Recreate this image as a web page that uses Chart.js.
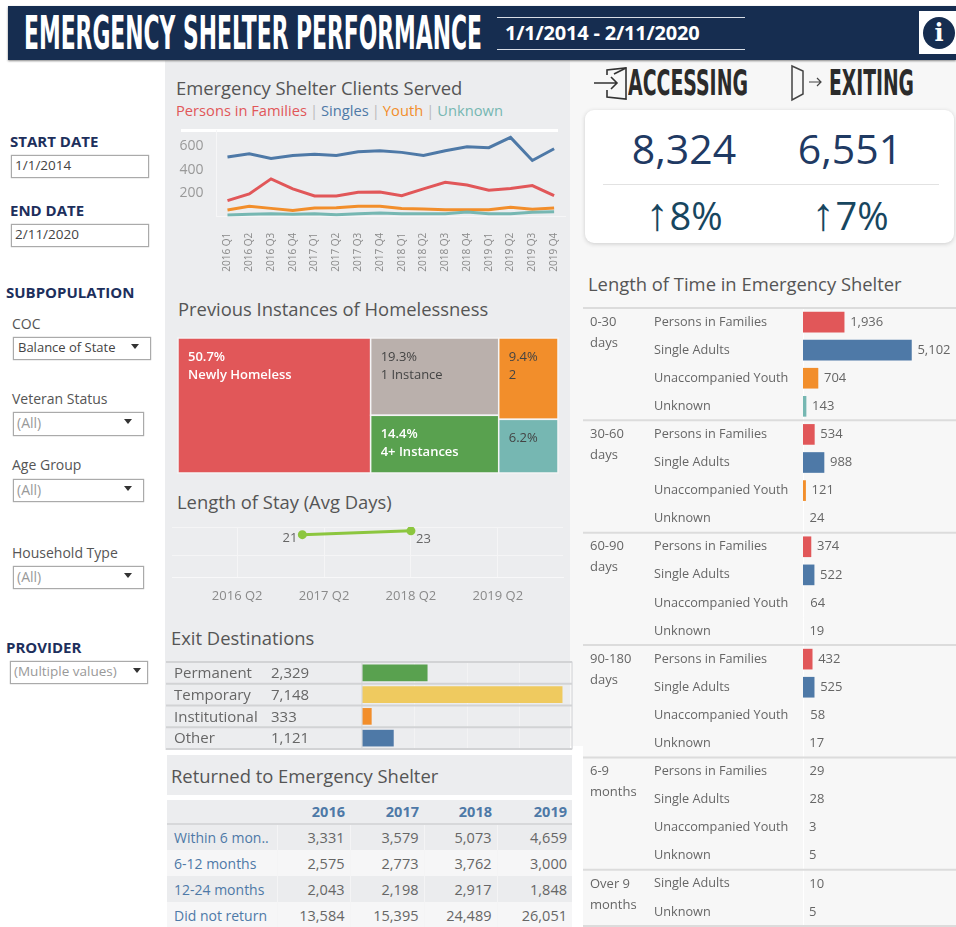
<!DOCTYPE html>
<html>
<head>
<meta charset="utf-8">
<title>Emergency Shelter Performance</title>
<script src="https://cdn.jsdelivr.net/npm/chart.js@4"></script>
<style>
  html, body { margin: 0; padding: 0; background: #fff; overflow: hidden; }
  #page { position: relative; width: 956px; height: 927px; overflow: hidden; background: #fff; font-family: "Open Sans", sans-serif; color: #555; filter: blur(0.55px); }
  #page > * { position: absolute; }
  .box { box-sizing: border-box; }
  .t { line-height: 20px; white-space: nowrap; }
  .head { font-size: 18.4px; color: #555; }
  .side { font-size: 15px; font-weight: 700; color: #1d2f5c; }
  .lab { font-size: 14px; color: #555; }
  .input { box-sizing: border-box; background: #fff; border: 1px solid #aaa; box-shadow: 0 0 1px #999; font-size: 13.5px; color: #444; padding-left: 3px; line-height: 19px; }
  .input.drop i { position: absolute; top: 6px; right: 11px; border-left: 4px solid transparent; border-right: 4px solid transparent; border-top: 5px solid #333; }
  .input.drop.all { color: #999; font-size: 14px; }
  .cond { font-family: "Liberation Sans Narrow", "DejaVu Sans Condensed", sans-serif; font-weight: 700; transform-origin: left center; white-space: nowrap; }
  .arrow { font-family: "Liberation Sans", sans-serif; font-size: 46px; font-weight: 400; margin-right: 1px; }
  .sep { margin: 0 3px; color: #bbb; }
  canvas { display: block; }
  table { border-collapse: collapse; table-layout: fixed; font-size: 14.5px; color: #666; }
  td, th { padding: 0 5px 0 0; text-align: right; white-space: nowrap; overflow: hidden; }
  th { color: #4e79a7; font-weight: 700; font-size: 14.5px; border-bottom: 2px solid #d7d8da; }
  td.row { text-align: left; padding-left: 7px; color: #4e79a7; font-weight: 500; font-size: 14px; }
  tr.odd td { background: #ebecee; }
  tr.even td { background: #f6f6f7; }
  td + td { border-left: 1px solid #f4f4f5; }
</style>
</head>
<body>
<div id="page">
  <!-- panels -->
  <div class="box" style="left:165px;top:60px;width:405px;height:690px;background:#ecedef"></div>
  <div class="box" style="left:570px;top:60px;width:386px;height:867px;background:#f7f7f7"></div>
  <div class="box" style="left:570px;top:746px;width:13px;height:181px;background:#fff"></div>
  <div class="box" style="left:167px;top:755px;width:405px;height:40px;background:#ecedef"></div>
  <div class="box" style="left:165px;top:750px;width:418px;height:5px;background:#fff"></div>

  <!-- header -->
  <div class="box" style="left:8px;top:6px;width:948px;height:54px;background:#162d50;box-shadow:0 1px 2px #888"></div>
  <div class="cond fit" data-w="458" style="left:24px;top:8px;font-size:46px;line-height:50px;color:#fff">EMERGENCY SHELTER PERFORMANCE</div>
  <div class="box" style="left:497px;top:17px;width:248px;height:33px;border-top:1px solid #d8dde6;border-bottom:1px solid #d8dde6"></div>
  <div class="t" style="left:505px;top:23px;font-size:20px;font-weight:700;color:#fff;letter-spacing:-0.2px">1/1/2014 - 2/11/2020</div>
  <div class="box" style="left:919px;top:11px;width:37px;height:43px;background:#fff"></div>
  <div style="left:923px;top:17px;width:32px;height:32px;border-radius:50%;background:#162d50;color:#fff;text-align:center;font:700 24px/32px 'DejaVu Serif',serif">i</div>

  <!-- filters -->
  <div class="t side" style="left:10px;top:131px">START DATE</div>
  <div class="input" style="left:11px;top:155px;width:138px;height:23px">1/1/2014</div>
  <div class="t side" style="left:10px;top:200px">END DATE</div>
  <div class="input" style="left:11px;top:224px;width:138px;height:23px">2/11/2020</div>
  <div class="t side" style="left:6px;top:282px">SUBPOPULATION</div>
  <div class="t lab" style="left:12px;top:314px">COC</div>
  <div class="input drop" style="left:13px;top:337px;width:138px;height:23px;font-size:13px;padding-left:4px">Balance of State<i></i></div>
  <div class="t lab" style="left:12px;top:389px">Veteran Status</div>
  <div class="input drop all" style="left:13px;top:412px;width:131px;height:24px">(All)<i></i></div>
  <div class="t lab" style="left:12px;top:455px">Age Group</div>
  <div class="input drop all" style="left:13px;top:479px;width:131px;height:23px">(All)<i></i></div>
  <div class="t lab" style="left:12px;top:543px">Household Type</div>
  <div class="input drop all" style="left:13px;top:566px;width:131px;height:23px">(All)<i></i></div>
  <div class="t side" style="left:6px;top:637px">PROVIDER</div>
  <div class="input drop all" style="left:10px;top:661px;width:138px;height:23px;font-size:13.5px">(Multiple values)<i style="right:6px"></i></div>

  <!-- middle column titles -->
  <div class="t head" style="left:176px;top:78px">Emergency Shelter Clients Served</div>
  <div class="t" style="left:176px;top:100px;font-size:14.7px"><span style="color:#e15759">Persons in Families</span><span class="sep">|</span><span style="color:#4e79a7">Singles</span><span class="sep">|</span><span style="color:#f28e2b">Youth</span><span class="sep">|</span><span style="color:#76b7b2">Unknown</span></div>
  <div class="box" style="left:181px;top:129px;width:377px;height:3px;background:#fff"></div>
  <canvas id="clientsChart" width="398" height="155" style="left:172px;top:125px"></canvas>

  <div class="t head" style="left:178px;top:299px">Previous Instances of Homelessness</div>
  <canvas id="instancesChart" width="392" height="145" style="left:172px;top:333px"></canvas>

  <div class="t head" style="left:177px;top:492px">Length of Stay (Avg Days)</div>
  <canvas id="stayChart" width="405" height="90" style="left:165px;top:520px"></canvas>

  <div class="t head" style="left:171px;top:628px">Exit Destinations</div>
  <canvas id="exitChart" width="408" height="91" style="left:166px;top:660px"></canvas>

  <div class="t head" style="left:171px;top:766px">Returned to Emergency Shelter</div>
  <table id="returnTable" style="left:167px;top:800px;width:405px"></table>

  <!-- right column -->
  <svg style="left:593px;top:66px" width="36" height="36" viewBox="0 0 36 36" fill="none" stroke="#333" stroke-width="1.6">
    <path d="M1 17 H24 M18 11 L24 17 L18 23"/><path d="M14 9 V4 L33 2 V33 L14 31 V24"/><path d="M33 2 L21 8"/>
  </svg>
  <div class="cond fit" data-w="120" style="left:628px;top:62px;font-size:36px;line-height:42px;color:#2b2b2b">ACCESSING</div>
  <svg style="left:790px;top:64px" width="40" height="40" viewBox="0 0 40 40" fill="none" stroke="#444" stroke-width="1.5">
    <path d="M2 2 L13 7 V30 L2 36 Z"/><path d="M19 18 H31 M27 14 L31 18 L27 22" stroke-width="1.2"/>
  </svg>
  <div class="cond fit" data-w="85" style="left:829px;top:62px;font-size:36px;line-height:42px;color:#2b2b2b">EXITING</div>

  <div class="box" style="left:585px;top:110px;width:369px;height:133px;background:#fff;border-radius:9px;box-shadow:0 1px 4px #ccc"></div>
  <div class="t" id="kpiAccess" style="left:585px;width:198px;text-align:center;top:128px;line-height:40px;font-size:41px;color:#1f3a63"></div>
  <div class="t" id="kpiExit" style="left:751px;width:198px;text-align:center;top:128px;line-height:40px;font-size:41px;color:#1f3a63"></div>
  <div class="box" style="left:603px;top:184px;width:336px;height:1px;background:#e2e2e2"></div>
  <div class="t" id="kpiAccessChange" style="left:585px;width:198px;text-align:center;top:194px;line-height:40px;font-size:38px;color:#17465f"></div>
  <div class="t" id="kpiExitChange" style="left:751px;width:198px;text-align:center;top:194px;line-height:40px;font-size:38px;color:#17465f"></div>

  <div class="t head" style="left:588px;top:274px">Length of Time in Emergency Shelter</div>
  <canvas id="timeChart" width="373" height="627" style="left:583px;top:300px"></canvas>
</div>

<script>
// Emergency shelter dashboard

const quarters = ['2016 Q1', '2016 Q2', '2016 Q3', '2016 Q4', '2017 Q1', '2017 Q2', '2017 Q3', '2017 Q4',
    '2018 Q1', '2018 Q2', '2018 Q3', '2018 Q4', '2019 Q1', '2019 Q2', '2019 Q3', '2019 Q4'];
const familiesServed = [137, 194, 323, 237, 177, 177, 209, 211, 180, 237, 294, 271, 226, 240, 266, 180];
const singlesServed = [509, 537, 497, 523, 534, 523, 554, 563, 549, 523, 563, 597, 589, 677, 480, 580];
const youthServed = [57, 89, 71, 54, 74, 77, 89, 89, 71, 66, 60, 60, 60, 80, 63, 74];
const unknownServed = [14, 20, 26, 20, 26, 17, 26, 31, 26, 26, 26, 40, 26, 26, 37, 43];
const servedTicks = [200, 400, 600];

const instanceNames = ['Newly Homeless', '1 Instance', '4+ Instances', '2', ''];
const instanceShares = [50.7, 19.3, 14.4, 9.4, 6.2];
const instanceColumns = [[0], [1, 2], [3, 4]];

const stayQuarters = ['2015 Q3', '2015 Q4', '2016 Q1', '2016 Q2', '2016 Q3', '2016 Q4', '2017 Q1', '2017 Q2', '2017 Q3', '2017 Q4',
    '2018 Q1', '2018 Q2', '2018 Q3', '2018 Q4', '2019 Q1', '2019 Q2', '2019 Q3', '2019 Q4', '2020 Q1'];
const stayDays = [null, null, null, null, null, null, 21, null, null, null, null, 23, null, null, null, null, null, null, null];
const stayTicks = ['2016 Q2', '2017 Q2', '2018 Q2', '2019 Q2'];

const exitNames = ['Permanent', 'Temporary', 'Institutional', 'Other'];
const exitValues = [2329, 7148, 333, 1121];

const returnYears = ['2016', '2017', '2018', '2019'];
const returnNames = ['Within 6 mon..', '6-12 months', '12-24 months', 'Did not return'];
const within6 = [3331, 3579, 5073, 4659];
const within12 = [2575, 2773, 3762, 3000];
const within24 = [2043, 2198, 2917, 1848];
const noReturn = [13584, 15395, 24489, 26051];

const accessing = 8324, exiting = 6551;
const accessingChange = 8, exitingChange = 7;

const stayNames = [['0-30', 'days'], ['30-60', 'days'], ['60-90', 'days'], ['90-180', 'days'], ['6-9', 'months'], ['Over 9', 'months']];
const stayGroups = ['Persons in Families', 'Single Adults', 'Unaccompanied Youth', 'Unknown'];
const lastGroups = ['Single Adults', 'Unknown'];
const days0to30 = [1936, 5102, 704, 143];
const days30to60 = [534, 988, 121, 24];
const days60to90 = [374, 522, 64, 19];
const days90to180 = [432, 525, 58, 17];
const months6to9 = [29, 28, 3, 5];
const monthsOver9 = [10, 5];

// colours
const RED = '#e15759', BLUE = '#4e79a7', ORANGE = '#f28e2b', TEAL = '#76b7b2', GREEN = '#59a14f', TAUPE = '#bab0ac', YELLOW = '#efca5f';
const GREY_TEXT = '#666';
const groupColors = { 'Persons in Families': RED, 'Single Adults': BLUE, 'Unaccompanied Youth': ORANGE, 'Unknown': TEAL };
const instanceColors = [RED, TAUPE, GREEN, ORANGE, TEAL];
const instanceTextColors = ['#fff', '#444', '#fff', '#444', '#444'];
const instanceTextWeights = ['600', '400', '600', '400', '400'];
const exitColors = [GREEN, YELLOW, ORANGE, BLUE];

Chart.defaults.font.family = '"Open Sans", sans-serif';
Chart.defaults.animation = false;
Chart.defaults.responsive = false;
Chart.defaults.plugins.legend.display = false;
Chart.defaults.plugins.tooltip.enabled = false;

const fmt = n => n.toLocaleString('en-US');

// fixed axis size, and no extra room for overhanging tick labels
const fixAxis = (size) => s => {
    if (s.isHorizontal()) s.height = size; else s.width = size;
    s.paddingTop = s.paddingBottom = s.paddingLeft = s.paddingRight = 0;
};

// horizontal rules between rows of a category axis
const rowLines = {
    id: 'rowLines',
    beforeDatasetsDraw(chart, args, opts) {
        const { ctx, chartArea, scales } = chart;
        ctx.save();
        ctx.strokeStyle = opts.color;
        ctx.lineWidth = opts.lineWidth;
        opts.rows.forEach(r => {
            const y = scales.y.getPixelForValue(r);
            ctx.beginPath();
            ctx.moveTo(opts.left, y);
            ctx.lineTo(chartArea.right, y);
            ctx.stroke();
        });
        ctx.restore();
    }
};

// value next to the end of each bar
const barValues = {
    id: 'barValues',
    afterDatasetsDraw(chart) {
        const { ctx, chartArea } = chart;
        const data = chart.data.datasets[0].data;
        ctx.save();
        ctx.font = '13px "Open Sans"';
        ctx.fillStyle = GREY_TEXT;
        ctx.textBaseline = 'middle';
        chart.getDatasetMeta(0).data.forEach((bar, i) => {
            ctx.fillText(fmt(data[i]), Math.max(bar.x, chartArea.left) + 6, bar.y);
        });
        ctx.restore();
    }
};

// group names in the far left of the length of time chart
const groupNames = {
    id: 'groupNames',
    afterDatasetsDraw(chart) {
        const { ctx, scales } = chart;
        let row = 0;
        ctx.save();
        ctx.font = '13px "Open Sans"';
        ctx.fillStyle = GREY_TEXT;
        ctx.textBaseline = 'middle';
        stayNames.forEach((lines, g) => {
            const y = scales.y.getPixelForValue(row);
            ctx.fillText(lines[0], 7, y);
            ctx.fillText(lines[1], 7, y + 21);
            row += g === stayNames.length - 1 ? lastGroups.length : stayGroups.length;
        });
        ctx.restore();
    }
};

// Chart.js has no treemap, so the tiles are placed through a 0-100 x/y scale
const treemap = {
    id: 'treemap',
    beforeDatasetsDraw(chart) {
        const { ctx, scales } = chart;
        let xVal = 0;
        ctx.save();
        instanceColumns.forEach(col => {
            const colShare = col.reduce((s, i) => s + instanceShares[i], 0);
            let yVal = 100;
            col.forEach(i => {
                const h = instanceShares[i] / colShare * 100;
                const x0 = scales.x.getPixelForValue(xVal), x1 = scales.x.getPixelForValue(xVal + colShare);
                const y0 = scales.y.getPixelForValue(yVal), y1 = scales.y.getPixelForValue(yVal - h);
                ctx.fillStyle = instanceColors[i];
                ctx.fillRect(x0, y0, x1 - x0, y1 - y0);
                ctx.strokeStyle = '#f4f4f5';
                ctx.lineWidth = 1.5;
                ctx.strokeRect(x0, y0, x1 - x0, y1 - y0);
                ctx.fillStyle = instanceTextColors[i];
                ctx.textBaseline = 'middle';
                ctx.font = instanceTextWeights[i] + ' 13px "Open Sans"';
                ctx.fillText(instanceShares[i].toFixed(1) + '%', x0 + 10, y0 + 19);
                ctx.fillText(instanceNames[i], x0 + 10, y0 + 37);
                yVal -= h;
            });
            xVal += colShare;
        });
        ctx.restore();
    }
};

// the two labels of the length of stay line
const stayLabels = {
    id: 'stayLabels',
    afterDatasetsDraw(chart) {
        const { ctx } = chart;
        const data = chart.data.datasets[0].data;
        ctx.save();
        ctx.font = '13px "Open Sans"';
        ctx.fillStyle = GREY_TEXT;
        ctx.textBaseline = 'middle';
        let first = true;
        chart.getDatasetMeta(0).data.forEach((pt, i) => {
            if (data[i] === null) return;
            ctx.textAlign = first ? 'right' : 'left';
            ctx.fillText(data[i], pt.x + (first ? -5 : 5), pt.y + (first ? 4 : 8));
            first = false;
        });
        ctx.restore();
    }
};

// number column in the exit destinations chart
const exitNumbers = {
    id: 'exitNumbers',
    afterDatasetsDraw(chart) {
        const { ctx, scales, chartArea } = chart;
        ctx.save();
        ctx.font = '15px "Open Sans"';
        ctx.fillStyle = GREY_TEXT;
        ctx.textBaseline = 'middle';
        exitValues.forEach((v, i) => ctx.fillText(fmt(v), chartArea.left - 91, scales.y.getPixelForValue(i) + 1));
        ctx.strokeStyle = '#d2d3d5';
        ctx.lineWidth = 1;
        ctx.strokeRect(chartArea.left, chartArea.top, chartArea.width, chartArea.height);
        ctx.restore();
    }
};

function renderClients() {
    const lineStyle = color => ({ borderColor: color, borderWidth: 3, pointRadius: 0, tension: 0 });
    new Chart(document.getElementById('clientsChart'), {
        type: 'line',
        data: {
            labels: quarters,
            datasets: [
                { label: 'Unknown', data: unknownServed, ...lineStyle(TEAL) },
                { label: 'Youth', data: youthServed, ...lineStyle(ORANGE) },
                { label: 'Persons in Families', data: familiesServed, ...lineStyle(RED) },
                { label: 'Singles', data: singlesServed, ...lineStyle(BLUE) }
            ]
        },
        options: {
            layout: { padding: { top: 5, right: 5 } },
            scales: {
                x: {
                    offset: true,
                    afterFit: fixAxis(63.3),
                    grid: { display: false },
                    border: { color: '#f6f6f7', dash: [2, 2] },
                    ticks: { minRotation: 90, maxRotation: 90, autoSkip: false, padding: 8, color: '#8a8a8a', font: { size: 10 } }
                },
                y: {
                    min: 0, max: 740,
                    afterBuildTicks: s => { s.ticks = servedTicks.map(value => ({ value })); },
                    afterFit: fixAxis(44.6),
                    grid: { display: false },
                    border: { color: '#f6f6f7' },
                    ticks: { padding: 5, color: '#999', font: { size: 14 } }
                }
            }
        }
    });
}

function renderInstances() {
    new Chart(document.getElementById('instancesChart'), {
        type: 'scatter',
        data: { datasets: [{ label: 'Previous instances', data: [] }] },
        options: {
            layout: { padding: { left: 6, right: 6, top: 5, bottom: 5 } },
            scales: {
                x: { display: false, min: 0, max: 100 },
                y: { display: false, min: 0, max: 100 }
            }
        },
        plugins: [treemap]
    });
}

function renderStay() {
    new Chart(document.getElementById('stayChart'), {
        type: 'line',
        data: {
            labels: stayQuarters,
            datasets: [{
                label: 'Avg days', data: stayDays, spanGaps: true, borderColor: '#8cc63f', borderWidth: 3,
                pointBackgroundColor: '#8cc63f', pointBorderColor: '#8cc63f', pointRadius: 3
            }]
        },
        options: {
            layout: { padding: { left: 7, right: 5, top: 5 } },
            scales: {
                x: {
                    afterFit: fixAxis(33),
                    grid: { color: c => stayTicks.includes(stayQuarters[c.index]) ? '#f5f5f6' : 'transparent', drawTicks: false },
                    border: { color: '#f8f8f9' },
                    ticks: {
                        autoSkip: false, maxRotation: 0, padding: 11, color: '#8a8a8a', font: { size: 13 },
                        callback(v) { const q = this.getLabelForValue(v); return stayTicks.includes(q) ? q : ''; }
                    }
                },
                y: {
                    min: -1, max: 25,
                    afterFit: fixAxis(0),
                    grid: { color: c => c.tick.value > 0 ? '#f5f5f6' : 'transparent', drawTicks: false },
                    border: { display: false },
                    ticks: { display: false, stepSize: 10, callback: v => v }
                }
            }
        },
        plugins: [stayLabels]
    });
}

function renderExits() {
    new Chart(document.getElementById('exitChart'), {
        type: 'bar',
        data: {
            labels: exitNames,
            datasets: [{ label: 'Exits', data: exitValues, backgroundColor: exitColors, barThickness: 16 }]
        },
        options: {
            indexAxis: 'y',
            layout: { padding: { left: 8, right: 2, top: 2, bottom: 2 } },
            plugins: { rowLines: { rows: [-0.5, 0.5, 1.5, 2.5, 3.5], left: 0, color: '#d2d3d5', lineWidth: 2 } },
            scales: {
                x: {
                    min: 0, max: 7500,
                    afterFit: fixAxis(0),
                    grid: { color: '#f3f3f4', drawTicks: false },
                    border: { display: false },
                    ticks: { display: false, stepSize: 2000 }
                },
                y: {
                    afterFit: fixAxis(188),
                    grid: { display: false },
                    border: { color: '#f3f3f4' },
                    ticks: { crossAlign: 'far', color: GREY_TEXT, font: { size: 15 }, z: 1, labelOffset: 1 }
                }
            }
        },
        plugins: [rowLines, exitNumbers]
    });
}

function renderTime() {
    const labels = [], values = [];
    [days0to30, days30to60, days60to90, days90to180, months6to9].forEach(group => {
        group.forEach((v, i) => { labels.push(stayGroups[i]); values.push(v); });
    });
    monthsOver9.forEach((v, i) => { labels.push(lastGroups[i]); values.push(v); });

    new Chart(document.getElementById('timeChart'), {
        type: 'bar',
        data: {
            labels,
            datasets: [{
                label: 'Clients', data: values, barThickness: 20,
                // the picture shows no visible bar below about 100
                backgroundColor: values.map((v, i) => v < 100 ? 'transparent' : groupColors[labels[i]])
            }]
        },
        options: {
            indexAxis: 'y',
            layout: { padding: { left: 71, top: 8, bottom: 1 } },
            plugins: { rowLines: { rows: [-0.5, 3.5, 7.5, 11.5, 15.5, 19.5, 21.5], left: 0, color: '#dcdcdc', lineWidth: 2 } },
            scales: {
                x: { display: false, min: 0, max: 7200 },
                y: {
                    afterFit: fixAxis(149),
                    grid: { display: false },
                    border: { color: '#fff' },
                    ticks: { autoSkip: false, crossAlign: 'far', color: GREY_TEXT, font: { size: 12.7 } }
                }
            }
        },
        plugins: [rowLines, barValues, groupNames]
    });
}

function renderReturnTable() {
    const table = document.getElementById('returnTable');
    const rows = [within6, within12, within24, noReturn];
    let html = '<colgroup><col style="width:110px"><col style="width:73px"><col style="width:74px"><col style="width:73px"><col style="width:75px"></colgroup>';
    html += '<tr style="height:24px"><th style="background:#ecedef"></th>' + returnYears.map(y => `<th style="background:#ecedef">${y}</th>`).join('') + '</tr>';
    rows.forEach((r, i) => {
        html += `<tr class="${i % 2 ? 'even' : 'odd'}" style="height:26px"><td class="row">${returnNames[i]}</td>` +
            r.map(v => `<td>${fmt(v)}</td>`).join('') + '</tr>';
    });
    table.innerHTML = html;
}

function fitText() {
    document.querySelectorAll('.fit').forEach(el => {
        const w = el.getBoundingClientRect().width;
        el.style.transform = `scaleX(${el.dataset.w / w})`;
    });
}

window.addEventListener('DOMContentLoaded', () => {
    const arrow = '<span class="arrow">\u2191</span>';
    document.getElementById('kpiAccess').textContent = fmt(accessing);
    document.getElementById('kpiExit').textContent = fmt(exiting);
    document.getElementById('kpiAccessChange').innerHTML = arrow + accessingChange + '%';
    document.getElementById('kpiExitChange').innerHTML = arrow + exitingChange + '%';
    fitText();
    renderClients();
    renderInstances();
    renderStay();
    renderExits();
    renderTime();
    renderReturnTable();
});
</script>
</body>
</html>
